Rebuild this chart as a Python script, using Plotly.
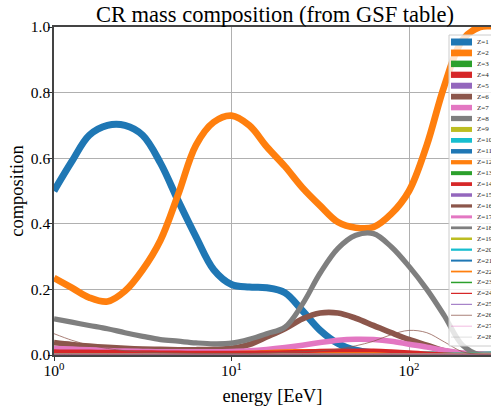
import plotly.graph_objects as go

# ---------------- data ----------------
energy = [1.0, 1.26, 1.58, 2.0, 2.51, 3.16, 3.98, 5.01, 6.31, 7.94,
          10.0, 12.6, 15.8, 20.0, 25.1, 31.6, 39.8, 50.1, 63.1, 79.4,
          100.0, 126.0, 158.0, 200.0, 251.0, 316.0]

z1 = [0.50, 0.59, 0.67, 0.70, 0.70, 0.67, 0.585, 0.47, 0.36, 0.26,
      0.215, 0.207, 0.205, 0.19, 0.135, 0.075, 0.035, 0.015, 0.007, 0.003,
      0.001, 0.0, 0.0, 0.0, 0.0, 0.0]
z2 = [0.235, 0.205, 0.175, 0.163, 0.195, 0.26, 0.35, 0.49, 0.64, 0.71,
      0.73, 0.70, 0.635, 0.575, 0.51, 0.455, 0.405, 0.388, 0.39, 0.43,
      0.50, 0.64, 0.82, 0.96, 1.0, 1.0]
z6 = [0.038, 0.032, 0.027, 0.023, 0.020, 0.018, 0.017, 0.016, 0.016, 0.017,
      0.020, 0.032, 0.055, 0.080, 0.110, 0.128, 0.128, 0.112, 0.090, 0.068,
      0.047, 0.030, 0.013, 0.004, 0.001, 0.0]
z7 = [0.020, 0.018, 0.016, 0.014, 0.012, 0.011, 0.010, 0.010, 0.010, 0.010,
      0.011, 0.013, 0.017, 0.023, 0.030, 0.038, 0.045, 0.048, 0.047, 0.042,
      0.033, 0.024, 0.014, 0.006, 0.002, 0.0]
z8 = [0.11, 0.10, 0.09, 0.08, 0.068, 0.057, 0.047, 0.042, 0.037, 0.034,
      0.036, 0.048, 0.065, 0.085, 0.155, 0.25, 0.325, 0.365, 0.37, 0.33,
      0.27, 0.20, 0.12, 0.03, 0.0, 0.0]
z10 = [0.004, 0.004, 0.004, 0.003, 0.003, 0.003, 0.003, 0.003, 0.003, 0.003,
       0.003, 0.003, 0.003, 0.003, 0.003, 0.003, 0.002, 0.002, 0.002, 0.001,
       0.001, 0.0, 0.0, 0.0, 0.0, 0.0]
z12 = [0.006, 0.006, 0.006, 0.005, 0.005, 0.005, 0.005, 0.005, 0.005, 0.005,
       0.006, 0.007, 0.009, 0.011, 0.012, 0.012, 0.010, 0.008, 0.006, 0.004,
       0.002, 0.001, 0.0, 0.0, 0.0, 0.0]
z14 = [0.012, 0.011, 0.011, 0.010, 0.009, 0.009, 0.008, 0.008, 0.007, 0.007,
       0.007, 0.007, 0.008, 0.009, 0.011, 0.013, 0.014, 0.014, 0.014, 0.012,
       0.009, 0.005, 0.002, 0.0, 0.0, 0.0]
z26 = [0.065, 0.045, 0.030, 0.020, 0.013, 0.009, 0.007, 0.006, 0.005, 0.005,
       0.005, 0.005, 0.006, 0.008, 0.010, 0.013, 0.018, 0.028, 0.042, 0.062,
       0.075, 0.068, 0.040, 0.010, 0.002, 0.0]
negligible = [0.0, 0.0, 0.0, 0.0, 0.0, 0.0, 0.0, 0.0, 0.0, 0.0,
              0.0, 0.0, 0.0, 0.0, 0.0, 0.0, 0.0, 0.0, 0.0, 0.0,
              0.0, 0.0, 0.0, 0.0, 0.0, 0.0]

charges = list(range(1, 29))
series = {1: z1, 2: z2, 6: z6, 7: z7, 8: z8, 10: z10, 12: z12, 14: z14, 26: z26}

x_tick_vals = [1, 10, 100]
x_tick_text = ["10<sup>0</sup>", "10<sup>1</sup>", "10<sup>2</sup>"]
y_tick_vals = [0.0, 0.2, 0.4, 0.6, 0.8, 1.0]
y_tick_text = ["0.0", "0.2", "0.4", "0.6", "0.8", "1.0"]

# ---------------- styles ----------------
tab10 = ["#1f77b4", "#ff7f0e", "#2ca02c", "#d62728", "#9467bd",
         "#8c564b", "#e377c2", "#7f7f7f", "#bcbd22", "#17becf"]
SERIF = "Liberation Serif, Times New Roman, serif"


def width_for(z):
    return (29 - z) / 4.0


fig = go.Figure()
for z in charges:
    fig.add_trace(go.Scatter(
        x=energy, y=series.get(z, negligible), mode="lines",
        name=f"Z={z}",
        line=dict(color=tab10[(z - 1) % 10], width=width_for(z), shape="spline", smoothing=1.0),
        showlegend=False, hoverinfo="skip",
    ))

# ---------------- manual legend (matplotlib-like) ----------------
L, R, T, B = 54, 491, 27, 355
W, H = R - L, B - T


def px(x):
    return (x - L) / W


def py(y):
    return (B - y) / H


shapes = [dict(type="rect", xref="paper", yref="paper",
               x0=px(449), x1=px(500), y0=py(346), y1=py(35),
               fillcolor="rgba(255,255,255,0.8)", line=dict(color="#cccccc", width=1),
               layer="above")]
annotations = []
for i, z in enumerate(charges):
    yy = 42 + i * 10.93
    shapes.append(dict(type="line", xref="paper", yref="paper",
                       x0=px(451), x1=px(472), y0=py(yy), y1=py(yy),
                       line=dict(color=tab10[(z - 1) % 10], width=width_for(z)),
                       layer="above"))
    annotations.append(dict(xref="paper", yref="paper", x=px(475), y=py(yy),
                            text=f"Z={z}", showarrow=False, xanchor="left", yanchor="middle",
                            font=dict(family=SERIF, size=7, color="#222222")))

fig.update_layout(
    width=491, height=409,
    margin=dict(l=L, r=0, t=T, b=409 - B, pad=0, autoexpand=False),
    paper_bgcolor="white", plot_bgcolor="white",
    title=dict(text="CR mass composition (from GSF table)", xref="container", yref="container",
               x=275 / 491, y=1 - 14 / 409, xanchor="center", yanchor="middle",
               font=dict(family=SERIF, size=22.5, color="black"), automargin=False),
    shapes=shapes, annotations=annotations,
    showlegend=False,
)
fig.update_xaxes(
    type="log", range=[0, 2.462], automargin=False,
    tickvals=x_tick_vals, ticktext=x_tick_text,
    ticks="outside", ticklen=4, tickcolor="#333333",
    tickfont=dict(family=SERIF, size=15.5, color="black"),
    showgrid=True, gridcolor="#b0b0b0", gridwidth=1,
    showline=True, linecolor="#444444", linewidth=1.5, mirror=True,
    title=dict(text="energy [EeV]", font=dict(family=SERIF, size=18.5, color="black"), standoff=11),
    zeroline=False,
)
fig.update_yaxes(
    range=[0, 1], automargin=False,
    tickvals=y_tick_vals, ticktext=y_tick_text,
    ticks="outside", ticklen=4, tickcolor="#333333",
    tickfont=dict(family=SERIF, size=15.5, color="black"),
    showgrid=True, gridcolor="#b0b0b0", gridwidth=1,
    showline=True, linecolor="#444444", linewidth=1.5, mirror=True,
    title=dict(text="composition", font=dict(family=SERIF, size=18.5, color="black"), standoff=2),
    zeroline=False,
)
try:
    fig.update_yaxes(ticklabelstandoff=-5)
    fig.update_xaxes(ticklabelstandoff=-3)
except Exception:
    pass

fig.write_html(
    "out.html",
    config={"displayModeBar": False},
    post_script="document.body.style.margin='0';document.body.style.overflow='hidden';",
)
